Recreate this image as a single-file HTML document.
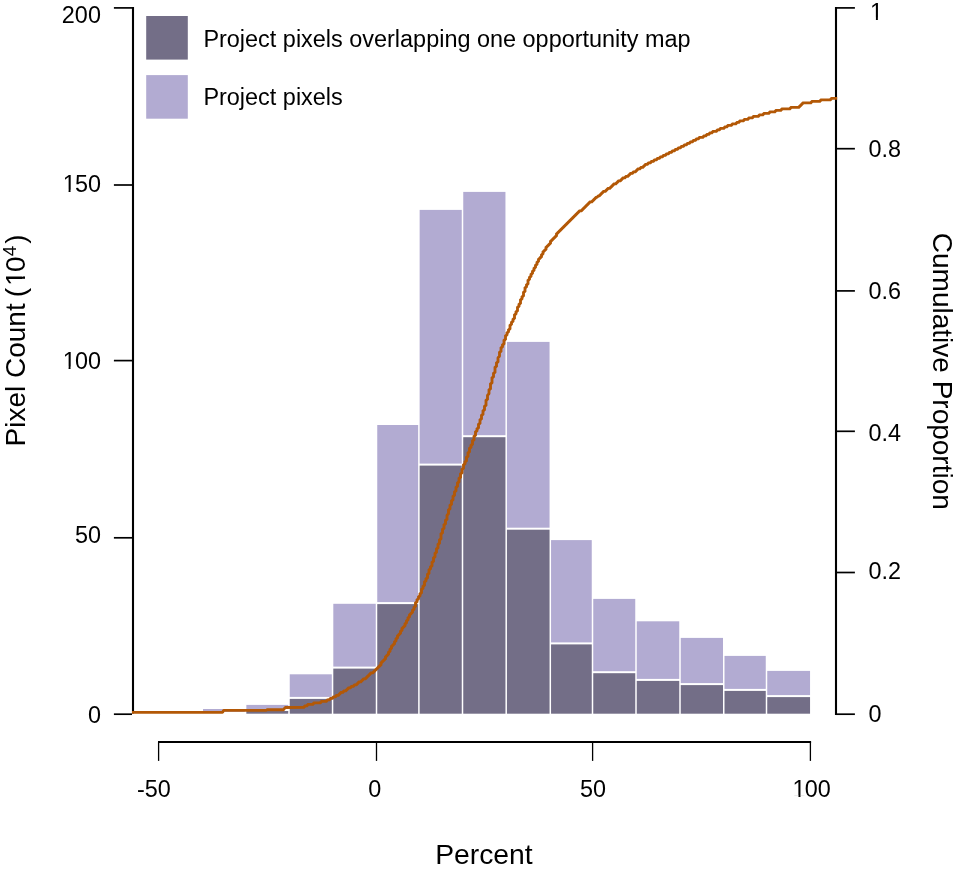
<!DOCTYPE html>
<html lang="en"><head><meta charset="utf-8"><title>Histogram</title>
<style>
html,body{margin:0;padding:0;background:#fff;}
body{width:957px;height:873px;overflow:hidden;}
svg{display:block;}
text{font-family:"Liberation Sans",Arial,Helvetica,sans-serif;fill:#000;}
.t{font-size:23.4px;}
.h{font-size:28px;}
.l{font-size:23.45px;}
</style></head><body>
<svg width="957" height="873" viewBox="0 0 957 873">
<rect width="957" height="873" fill="#fff"/>

<g shape-rendering="auto">
<rect x="203.05" y="709.00" width="41.80" height="2.90" fill="#B2ABD2"/>
<rect x="246.35" y="704.90" width="41.90" height="4.10" fill="#B2ABD2"/>
<rect x="246.35" y="711.00" width="41.90" height="2.70" fill="#736E87"/>
<rect x="289.75" y="674.30" width="42.05" height="22.60" fill="#B2ABD2"/>
<rect x="289.75" y="698.90" width="42.05" height="14.80" fill="#736E87"/>
<rect x="333.30" y="603.80" width="42.45" height="62.80" fill="#B2ABD2"/>
<rect x="333.30" y="668.60" width="42.45" height="45.10" fill="#736E87"/>
<rect x="377.25" y="425.00" width="40.90" height="177.10" fill="#B2ABD2"/>
<rect x="377.25" y="604.10" width="40.90" height="109.60" fill="#736E87"/>
<rect x="419.65" y="209.90" width="42.10" height="253.70" fill="#B2ABD2"/>
<rect x="419.65" y="465.60" width="42.10" height="248.10" fill="#736E87"/>
<rect x="463.25" y="191.90" width="42.20" height="243.30" fill="#B2ABD2"/>
<rect x="463.25" y="437.20" width="42.20" height="276.50" fill="#736E87"/>
<rect x="506.95" y="341.90" width="42.60" height="185.80" fill="#B2ABD2"/>
<rect x="506.95" y="529.70" width="42.60" height="184.00" fill="#736E87"/>
<rect x="551.05" y="540.10" width="40.70" height="102.30" fill="#B2ABD2"/>
<rect x="551.05" y="644.40" width="40.70" height="69.30" fill="#736E87"/>
<rect x="593.25" y="598.90" width="42.00" height="72.30" fill="#B2ABD2"/>
<rect x="593.25" y="673.20" width="42.00" height="40.50" fill="#736E87"/>
<rect x="636.75" y="621.30" width="42.50" height="57.60" fill="#B2ABD2"/>
<rect x="636.75" y="680.90" width="42.50" height="32.80" fill="#736E87"/>
<rect x="680.75" y="637.90" width="42.25" height="45.20" fill="#B2ABD2"/>
<rect x="680.75" y="685.10" width="42.25" height="28.60" fill="#736E87"/>
<rect x="724.50" y="655.90" width="41.25" height="33.00" fill="#B2ABD2"/>
<rect x="724.50" y="690.90" width="41.25" height="22.80" fill="#736E87"/>
<rect x="767.25" y="670.90" width="42.80" height="24.20" fill="#B2ABD2"/>
<rect x="767.25" y="697.10" width="42.80" height="16.60" fill="#736E87"/>
</g>
<rect x="146.2" y="16" width="41.6" height="43.6" fill="#736E87"/>
<rect x="146.2" y="75.1" width="41.6" height="43.6" fill="#B2ABD2"/>
<text class="l" x="203.4" y="46.9">Project pixels overlapping one opportunity map</text>
<text class="l" x="203.4" y="105">Project pixels</text>
<g stroke="#000" fill="none">
<path d="M133 6.9V713.5" stroke-width="2.1"/>
<path d="M113.9 7.9H133" stroke-width="1.7"/>
<path d="M113.9 185.0H133" stroke-width="1.7"/>
<path d="M113.9 360.6H133" stroke-width="1.7"/>
<path d="M113.9 537.8H133" stroke-width="1.7"/>
<path d="M113.9 714.2H132" stroke-width="1.7"/>
<path d="M158 742H811.1" stroke-width="2.1"/>
<path d="M158.6 742V760.9" stroke-width="1.3"/>
<path d="M376.5 742V760.9" stroke-width="1.3"/>
<path d="M592.6 742V760.9" stroke-width="1.3"/>
<path d="M810.4 742V760.9" stroke-width="1.3"/>
</g>
<g stroke="#000" fill="none">
<path d="M836 6.9V715.1" stroke-width="2.1"/>
<path d="M836 7.9H854.9" stroke-width="1.7"/>
<path d="M836 148.7H854.9" stroke-width="1.7"/>
<path d="M836 290.9H854.9" stroke-width="1.7"/>
<path d="M836 431.3H854.9" stroke-width="1.7"/>
<path d="M836 572.5H854.9" stroke-width="1.7"/>
<path d="M836 714.2H854.9" stroke-width="1.7"/>
</g>
<path d="M132.00 712.30L222.60 712.30L223.60 710.40L266.20 710.40L267.20 709.70L283.60 709.70L285.20 707.50L303.00 707.30L304.50 707.30L304.50 705.80L307.50 705.80L307.50 704.30L313.50 704.30L313.50 702.80L321.00 702.80L321.00 701.30L327.00 701.30L327.00 699.80L330.00 699.80L330.00 698.30L333.00 698.30L333.00 696.80L336.00 696.80L336.00 695.30L339.00 695.30L339.00 693.80L340.50 693.80L340.50 692.30L343.50 692.30L343.50 690.80L346.50 690.80L346.50 689.30L348.00 689.30L348.00 687.80L351.00 687.80L351.00 686.30L354.00 686.30L354.00 684.80L357.00 684.80L357.00 683.30L358.50 683.30L358.50 681.80L361.50 681.80L361.50 680.30L363.00 680.30L363.00 678.80L366.00 678.80L366.00 677.30L367.50 677.30L367.50 675.80L369.00 675.80L369.00 674.30L370.50 674.30L370.50 672.80L373.50 672.80L373.50 671.30L375.00 671.30L375.00 669.80L376.50 669.80L376.50 668.30L378.00 668.30L378.00 666.80L379.50 666.80L379.50 665.30L381.00 665.30L381.00 662.30L382.50 662.30L382.50 660.80L384.00 660.80L384.00 659.30L385.50 659.30L385.50 656.30L387.00 656.30L387.00 654.80L388.50 654.80L388.50 651.80L390.00 651.80L390.00 648.80L391.50 648.80L391.50 645.80L393.00 645.80L393.00 644.30L394.50 644.30L394.50 641.30L396.00 641.30L396.00 638.30L397.50 638.30L397.50 635.30L399.00 635.30L399.00 633.80L400.50 633.80L400.50 630.80L402.00 630.80L402.00 627.80L403.50 627.80L403.50 626.30L405.00 626.30L405.00 623.30L406.50 623.30L406.50 620.30L408.00 620.30L408.00 617.30L409.50 617.30L409.50 614.30L411.00 614.30L411.00 612.80L412.50 612.80L412.50 609.80L414.00 609.80L414.00 606.80L415.50 606.80L415.50 602.30L417.00 602.30L417.00 599.30L418.50 599.30L418.50 596.30L420.00 596.30L420.00 593.30L421.50 593.30L421.50 588.80L423.00 588.80L423.00 585.80L424.50 585.80L424.50 581.30L426.00 581.30L426.00 578.30L427.50 578.30L427.50 573.80L429.00 573.80L429.00 569.30L430.50 569.30L430.50 566.30L432.00 566.30L432.00 561.80L433.50 561.80L433.50 557.30L435.00 557.30L435.00 552.80L436.50 552.80L436.50 548.30L438.00 548.30L438.00 543.80L439.50 543.80L439.50 539.30L441.00 539.30L441.00 533.30L442.50 533.30L442.50 528.80L444.00 528.80L444.00 524.30L445.50 524.30L445.50 519.80L447.00 519.80L447.00 515.30L448.50 513.80L448.50 509.30L450.00 509.30L450.00 504.80L451.50 504.80L451.50 500.30L453.00 500.30L453.00 495.80L454.50 495.80L454.50 491.30L456.00 491.30L456.00 486.80L457.50 486.80L457.50 482.30L459.00 482.30L459.00 477.80L460.50 477.80L460.50 473.30L462.00 473.30L462.00 468.80L463.50 468.80L463.50 464.30L465.00 464.30L465.00 461.30L466.50 461.30L466.50 456.80L468.00 456.80L468.00 452.30L469.50 452.30L469.50 447.80L471.00 447.80L471.00 444.80L472.50 444.80L472.50 440.30L474.00 440.30L474.00 435.80L475.50 435.80L475.50 431.30L477.00 431.30L477.00 428.30L478.50 428.30L478.50 423.80L480.00 423.80L480.00 419.30L481.50 419.30L481.50 414.80L483.00 414.80L483.00 410.30L484.50 410.30L484.50 405.80L486.00 405.80L486.00 399.80L487.50 399.80L487.50 395.30L489.00 393.80L489.00 389.30L490.50 389.30L490.50 383.30L492.00 383.30L492.00 377.30L493.50 377.30L493.50 372.80L495.00 372.80L495.00 366.80L496.50 366.80L496.50 362.30L498.00 362.30L498.00 357.80L499.50 356.30L499.50 351.80L501.00 351.80L501.00 347.30L502.50 347.30L502.50 344.30L504.00 344.30L504.00 339.80L505.50 339.80L505.50 335.30L507.00 335.30L507.00 332.30L508.50 332.30L508.50 329.30L510.00 329.30L510.00 324.80L511.50 324.80L511.50 321.80L513.00 321.80L513.00 318.80L514.50 318.80L514.50 314.30L516.00 314.30L516.00 311.30L517.50 311.30L517.50 306.80L519.00 306.80L519.00 303.80L520.50 303.80L520.50 299.30L522.00 299.30L522.00 296.30L523.50 296.30L523.50 291.80L525.00 291.80L525.00 287.30L526.50 287.30L526.50 284.30L528.00 284.30L528.00 279.80L529.50 279.80L529.50 276.80L531.00 276.80L531.00 273.80L532.50 273.80L532.50 270.80L534.00 270.80L534.00 267.80L535.50 267.80L535.50 264.80L537.00 264.80L537.00 261.80L538.50 261.80L538.50 258.80L540.00 258.80L540.00 257.30L541.50 257.30L541.50 254.30L543.00 254.30L543.00 251.30L544.50 251.30L544.50 249.80L546.00 249.80L546.00 246.80L547.50 246.80L547.50 245.30L549.00 245.30L549.00 243.80L550.50 243.80L550.50 240.80L552.00 240.80L552.00 239.30L553.50 239.30L553.50 237.80L555.00 237.80L555.00 236.30L556.50 236.30L556.50 233.30L558.00 233.30L558.00 231.80L559.50 231.80L559.50 230.30L561.00 230.30L561.00 228.80L562.50 228.80L562.50 227.30L564.00 227.30L564.00 225.80L565.50 225.80L565.50 224.30L567.00 224.30L567.00 222.80L568.50 222.80L568.50 221.30L570.00 221.30L570.00 219.80L571.50 219.80L571.50 218.30L573.00 218.30L573.00 216.80L574.50 216.80L574.50 215.30L576.00 215.30L576.00 213.80L577.50 213.80L577.50 212.30L579.00 212.30L579.00 210.80L582.00 210.80L582.00 209.30L583.50 209.30L583.50 207.80L585.00 207.80L585.00 206.30L586.50 206.30L586.50 204.80L588.00 204.80L588.00 203.30L589.50 203.30L589.50 201.80L592.50 201.80L592.50 200.30L594.00 200.30L594.00 198.80L595.50 198.80L595.50 197.30L597.00 197.30L598.50 195.80L600.00 195.80L600.00 194.30L601.50 194.30L601.50 192.80L603.00 192.80L603.00 191.30L606.00 191.30L606.00 189.80L607.50 189.80L607.50 188.30L610.50 188.30L610.50 186.80L612.00 186.80L612.00 185.30L613.50 185.30L613.50 183.80L616.50 183.80L616.50 182.30L618.00 182.30L618.00 180.80L621.00 180.80L621.00 179.30L622.50 179.30L622.50 177.80L625.50 177.80L625.50 176.30L628.50 176.30L628.50 174.80L630.00 174.80L630.00 173.30L633.00 173.30L633.00 171.80L636.00 171.80L636.00 170.30L637.50 170.30L637.50 168.80L640.50 168.80L640.50 167.30L643.50 167.30L643.50 165.80L645.00 165.80L645.00 164.30L648.00 164.30L648.00 162.80L651.00 162.80L651.00 161.30L654.00 161.30L654.00 159.80L657.00 159.80L657.00 158.30L660.00 158.30L660.00 156.80L663.00 156.80L663.00 155.30L666.00 155.30L666.00 153.80L669.00 153.80L669.00 152.30L672.00 152.30L672.00 150.80L675.00 150.80L675.00 149.30L678.00 149.30L678.00 147.80L681.00 147.80L681.00 146.30L684.00 146.30L684.00 144.80L687.00 144.80L687.00 143.30L690.00 143.30L690.00 141.80L693.00 141.80L693.00 140.30L696.00 140.30L696.00 138.80L699.00 138.80L699.00 137.30L703.50 137.30L703.50 135.80L706.50 135.80L706.50 134.30L709.50 134.30L709.50 132.80L712.50 132.80L712.50 131.30L717.00 131.30L717.00 129.80L720.00 129.80L720.00 128.30L724.50 128.30L724.50 126.80L727.50 126.80L727.50 125.30L732.00 125.30L732.00 123.80L736.50 123.80L736.50 122.30L739.50 122.30L739.50 120.80L744.00 120.80L744.00 119.30L748.50 119.30L748.50 117.80L753.00 117.80L753.00 116.30L759.00 116.30L759.00 114.80L763.50 114.80L763.50 113.30L769.50 113.30L769.50 111.80L775.50 111.80L775.50 110.30L781.50 110.30L781.50 108.80L790.50 108.80L790.50 107.30L799.50 107.30L799.50 105.80L801.00 105.80L801.00 104.30L802.50 104.30L802.50 102.80L811.50 102.80L811.50 101.30L820.50 101.30L820.50 99.80L831.00 99.80L831.00 98.30L837.20 98.30" fill="none" stroke="#B35806" stroke-width="2.85" stroke-linejoin="bevel" stroke-linecap="butt"/>
<text class="t" x="61.87" y="22.9">200</text>
<text class="t" x="62.64" y="192.1">1<tspan dx="-0.77">50</tspan></text>
<rect x="63.62" y="189.80" width="4.95" height="3.20" fill="#fff"/>
<rect x="70.54" y="189.80" width="4.72" height="3.20" fill="#fff"/>
<text class="t" x="62.64" y="369.0">1<tspan dx="-0.77">00</tspan></text>
<rect x="63.62" y="366.70" width="4.95" height="3.20" fill="#fff"/>
<rect x="70.54" y="366.70" width="4.72" height="3.20" fill="#fff"/>
<text class="t" x="74.88" y="543.2">50</text>
<text class="t" x="87.89" y="723.1">0</text>
<text class="t" x="869.97" y="19.9">1</text>
<rect x="870.96" y="17.60" width="4.95" height="3.20" fill="#fff"/>
<rect x="877.87" y="17.60" width="4.72" height="3.20" fill="#fff"/>
<text class="t" x="868.60" y="157.1">0.8</text>
<text class="t" x="868.60" y="299.2">0.6</text>
<text class="t" x="868.60" y="441.1">0.4</text>
<text class="t" x="868.60" y="579.2">0.2</text>
<text class="t" x="868.60" y="722.1">0</text>
<text class="t" x="136.99" y="797.4">-50</text>
<text class="t" x="368.19" y="797.4">0</text>
<text class="t" x="579.99" y="797.4">50</text>
<text class="t" x="792.56" y="797.4">1<tspan dx="-0.77">00</tspan></text>
<rect x="793.54" y="795.10" width="4.95" height="3.20" fill="#fff"/>
<rect x="800.46" y="795.10" width="4.72" height="3.20" fill="#fff"/>
<text class="h" style="font-size:28.3px" x="483.9" y="863.8" text-anchor="middle">Percent</text>
<g transform="translate(25.2 446.5) rotate(-90)">
<text class="h" x="0" y="0">Pixel Count <tspan x="149.35">(</tspan><tspan x="160.60">1</tspan><tspan x="174.56">0</tspan><tspan x="190.34" dy="-9" font-size="18.8px">4</tspan><tspan x="202.69" dy="9">)</tspan></text>
<rect x="161.93" y="-3.19" width="5.76" height="4.09" fill="#fff"/>
<rect x="170.06" y="-3.19" width="5.49" height="4.09" fill="#fff"/>
</g>
<text class="h" transform="translate(932.6 232.8) rotate(90)">Cumulative Proportion</text>
</svg></body></html>
